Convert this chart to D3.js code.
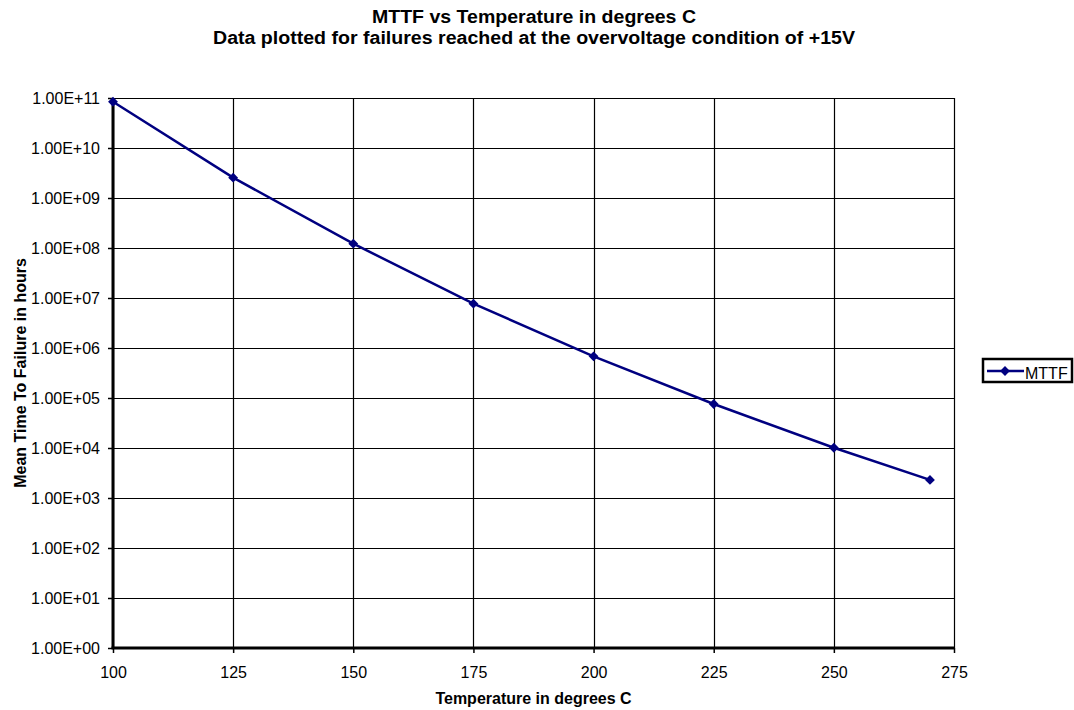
<!DOCTYPE html>
<html>
<head>
<meta charset="utf-8">
<script src="https://cdn.jsdelivr.net/npm/d3@7"></script>
<style>
  body { margin: 0; background: #fff; }
  svg { display: block; font-family: "Liberation Sans", Arial, sans-serif; }
</style>
</head>
<body>
<div id="chart"></div>
<script>
// data
const temps = [100, 125, 150, 175, 200, 225, 250, 270];
const mttf = [8.4e10, 2.55e9, 1.22e8, 7.7e6, 6.8e5, 7.6e4, 1.01e4, 2.3e3];
const xTicks = [100, 125, 150, 175, 200, 225, 250, 275];
const yTicks = [1e0, 1e1, 1e2, 1e3, 1e4, 1e5, 1e6, 1e7, 1e8, 1e9, 1e10, 1e11];
const seriesName = "MTTF";
const titleLines = [
  "MTTF vs Temperature in degrees C",
  "Data plotted for failures reached at the overvoltage condition of +15V"
];

const width = 1074, height = 710;
const plotL = 113, plotR = 954, plotT = 98, plotB = 648;
const color = "#000080";
const font = "Liberation Sans, Arial, sans-serif";

const svg = d3.select("#chart").append("svg")
  .attr("width", width).attr("height", height);

const x = d3.scaleLinear().domain([100, 275]).range([plotL, plotR]);
const y = d3.scaleLog().domain([1, 1e11]).range([plotB, plotT]);

// grid
svg.append("g")
  .selectAll("line")
  .data(yTicks)
  .join("line")
  .attr("x1", plotL).attr("x2", plotR)
  .attr("y1", d => Math.round(y(d)) + 0.5).attr("y2", d => Math.round(y(d)) + 0.5)
  .attr("stroke", "#000").attr("stroke-width", 1.2);
svg.append("g")
  .selectAll("line")
  .data(xTicks)
  .join("line")
  .attr("x1", d => Math.round(x(d)) + 0.5).attr("x2", d => Math.round(x(d)) + 0.5)
  .attr("y1", plotT).attr("y2", plotB)
  .attr("stroke", "#000").attr("stroke-width", 1.2);

// axes
const fmt = d => {
  const e = Math.round(Math.log10(d));
  return "1.00E+" + (e < 10 ? "0" + e : e);
};
const yAxis = svg.append("g")
  .attr("transform", `translate(${plotL},0)`)
  .call(d3.axisLeft(y).tickValues(yTicks).tickFormat(fmt).tickSize(5).tickPadding(8));
const xAxis = svg.append("g")
  .attr("transform", `translate(0,${plotB})`)
  .call(d3.axisBottom(x).tickValues(xTicks).tickFormat(d3.format("d")).tickSize(5));
for (const ax of [yAxis, xAxis]) {
  ax.attr("font-family", font).attr("font-size", 16);
  ax.select(".domain").attr("stroke", "#000").attr("stroke-width", 3);
  ax.selectAll(".tick line").attr("stroke", "#000").attr("stroke-width", 1.5);
  ax.selectAll("text").attr("fill", "#000");
}
xAxis.selectAll(".tick text").attr("dy", null).attr("y", 30);
yAxis.selectAll(".tick text").attr("dy", "0.36em");
xAxis.select(".domain").attr("d", `M${plotL - 1.5},0H${plotR}`);
yAxis.select(".domain").attr("d", `M0,${plotB}V${plotT}`);

// series
const pts = temps.map((t, i) => ({ t, v: mttf[i] }));
svg.append("path")
  .datum(pts)
  .attr("fill", "none")
  .attr("stroke", color)
  .attr("stroke-width", 2.5)
  .attr("d", d3.line().x(d => x(d.t)).y(d => y(d.v)));
const diamond = d3.symbol().type(d3.symbolDiamond2).size(62);
svg.append("g")
  .selectAll("path")
  .data(pts)
  .join("path")
  .attr("transform", d => `translate(${x(d.t)},${y(d.v)})`)
  .attr("d", diamond)
  .attr("fill", color);

// titles (two lines, a bit narrower font stretched to the reference width)
const titleW = [324, 642];
svg.append("g")
  .selectAll("text")
  .data(titleLines)
  .join("text")
  .attr("x", 534)
  .attr("y", (d, i) => 23 + i * 20.5)
  .attr("text-anchor", "middle").attr("font-size", 18).attr("font-weight", "bold")
  .attr("textLength", (d, i) => titleW[i])
  .attr("lengthAdjust", "spacingAndGlyphs")
  .text(d => d);
svg.append("text")
  .attr("x", (plotL + plotR) / 2).attr("y", 704)
  .attr("text-anchor", "middle").attr("font-size", 16).attr("font-weight", "bold")
  .text("Temperature in degrees C");
svg.append("text")
  .attr("transform", `translate(26,${(plotT + plotB) / 2}) rotate(-90)`)
  .attr("text-anchor", "middle").attr("font-size", 16).attr("font-weight", "bold")
  .text("Mean Time To Failure in hours");

// legend
const lg = svg.append("g").attr("transform", "translate(983,359)");
lg.append("rect")
  .attr("width", 89).attr("height", 23)
  .attr("fill", "#fff").attr("stroke", "#000").attr("stroke-width", 2.5);
lg.append("line")
  .attr("x1", 4).attr("x2", 41).attr("y1", 12).attr("y2", 12)
  .attr("stroke", color).attr("stroke-width", 2.5);
lg.append("path")
  .attr("transform", "translate(22,12)")
  .attr("d", diamond).attr("fill", color);
lg.append("text")
  .attr("x", 42).attr("y", 20).attr("font-size", 16)
  .text(seriesName);
</script>
</body>
</html>
